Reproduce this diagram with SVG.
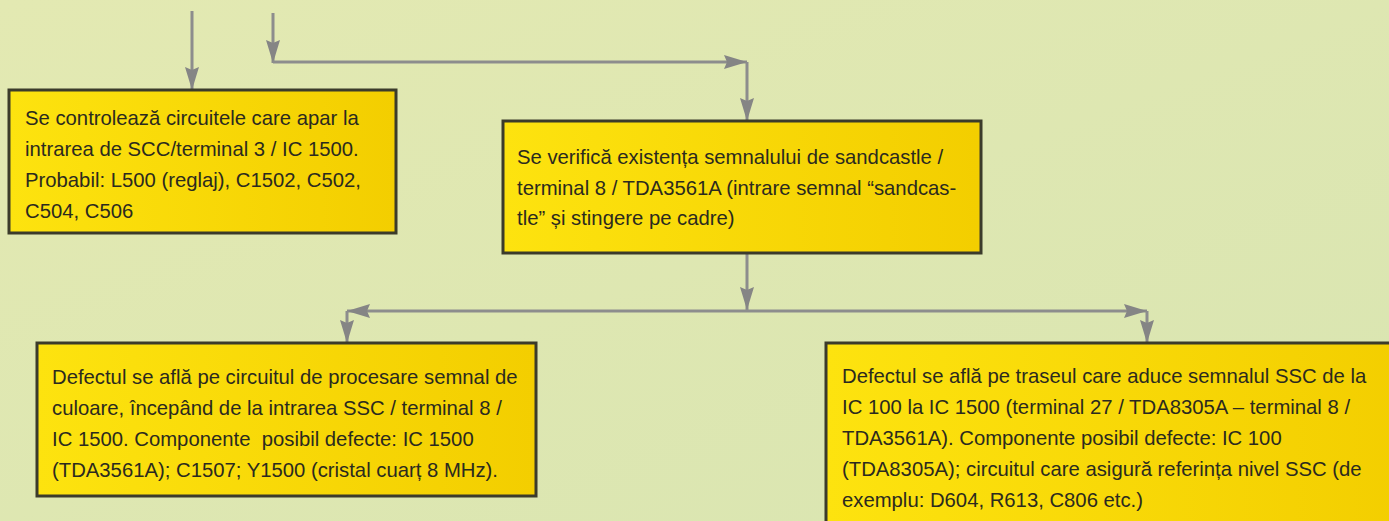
<svg xmlns="http://www.w3.org/2000/svg" width="1389" height="521" viewBox="0 0 1389 521">
<defs>
<linearGradient id="bg" x1="0" y1="0" x2="1" y2="1">
<stop offset="0" stop-color="#e3e9b2"/>
<stop offset="1" stop-color="#d9e5b1"/>
</linearGradient>
<linearGradient id="fill" x1="0" y1="0" x2="1" y2="0">
<stop offset="0" stop-color="#fde30f"/>
<stop offset="1" stop-color="#f3ce00"/>
</linearGradient>
<marker id="ah" markerUnits="userSpaceOnUse" markerWidth="24" markerHeight="14" refX="23" refY="7" orient="auto">
<polygon points="0,0 23,7 0,14 3,7" fill="#858585"/>
</marker>
<style>
.box{fill:url(#fill);stroke:#3b3b2b;stroke-width:3}
.t{font-family:"Liberation Sans",Arial,sans-serif;font-size:20.3px;fill:#2b2a1f}
.c{stroke:#8d8d8d;stroke-width:3;fill:none}
.a{marker-end:url(#ah)}
</style>
</defs>
<rect width="1389" height="521" fill="url(#bg)"/>
<g id="connectors">
<line class="c a" x1="192" y1="11" x2="192" y2="90"/>
<line class="c a" x1="273" y1="13" x2="273" y2="63"/>
<line class="c a" x1="273" y1="62" x2="747" y2="62"/>
<line class="c a" x1="747" y1="62" x2="747" y2="121"/>
<line class="c a" x1="747" y1="253" x2="747" y2="310"/>
<line class="c a" x1="747" y1="311" x2="347" y2="311"/>
<line class="c a" x1="747" y1="311" x2="1147" y2="311"/>
<line class="c a" x1="347" y1="311" x2="347" y2="343"/>
<line class="c a" x1="1147" y1="311" x2="1147" y2="343"/>
</g>
<g id="node1">
<rect class="box" x="9" y="90" width="387" height="143"/>
<text class="t" x="25" y="125">Se controlează circuitele care apar la</text>
<text class="t" x="25" y="156">intrarea de SCC/terminal 3 / IC 1500.</text>
<text class="t" x="25" y="187">Probabil: L500 (reglaj), C1502, C502,</text>
<text class="t" x="25" y="218">C504, C506</text>
</g>
<g id="node2">
<rect class="box" x="503" y="121" width="478" height="132"/>
<text class="t" x="517" y="164">Se verifică existența semnalului de sandcastle /</text>
<text class="t" x="517" y="195">terminal 8 / TDA3561A (intrare semnal “sandcas-</text>
<text class="t" x="517" y="225">tle” și stingere pe cadre)</text>
</g>
<g id="node3">
<rect class="box" x="37" y="343" width="499" height="153"/>
<text class="t" x="52" y="384">Defectul se află pe circuitul de procesare semnal de</text>
<text class="t" x="52" y="415">culoare, începând de la intrarea SSC / terminal 8 /</text>
<text class="t" x="52" y="446" xml:space="preserve">IC 1500. Componente  posibil defecte: IC 1500</text>
<text class="t" x="52" y="477">(TDA3561A); C1507; Y1500 (cristal cuarț 8 MHz).</text>
</g>
<g id="node4">
<rect class="box" x="826" y="343" width="580" height="200"/>
<text class="t" x="842" y="383">Defectul se află pe traseul care aduce semnalul SSC de la</text>
<text class="t" x="842" y="414">IC 100 la IC 1500 (terminal 27 / TDA8305A – terminal 8 /</text>
<text class="t" x="842" y="445">TDA3561A). Componente posibil defecte: IC 100</text>
<text class="t" x="842" y="476">(TDA8305A); circuitul care asigură referința nivel SSC (de</text>
<text class="t" x="842" y="507">exemplu: D604, R613, C806 etc.)</text>
</g>
</svg>
